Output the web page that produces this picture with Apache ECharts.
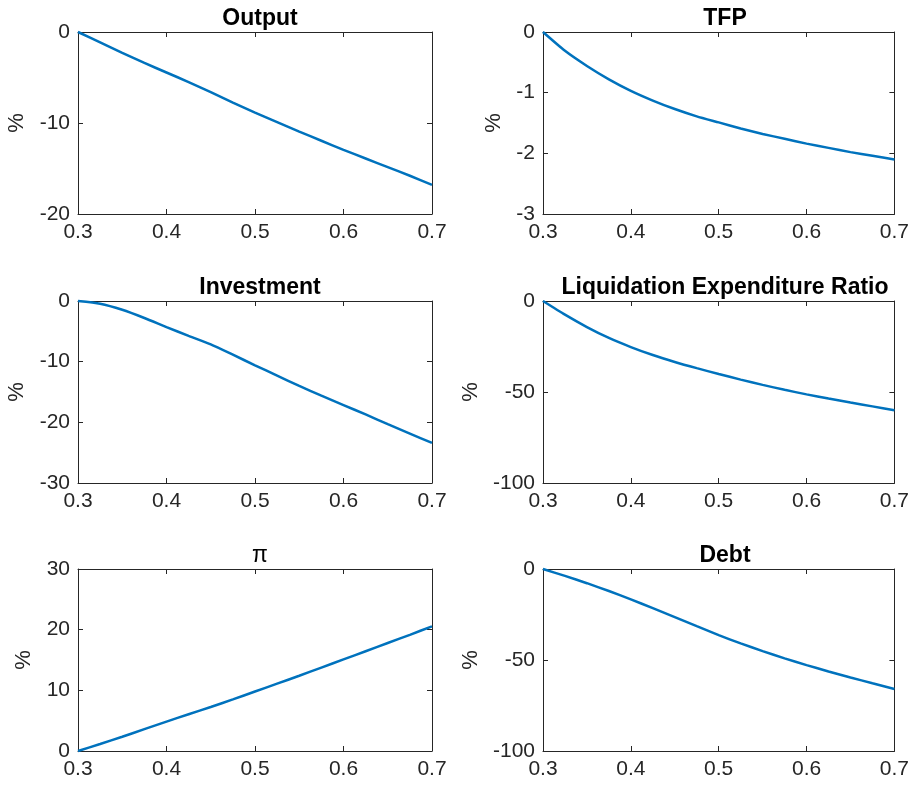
<!DOCTYPE html>
<html>
<head>
<meta charset="utf-8">
<script src="https://cdn.jsdelivr.net/npm/echarts@6/dist/echarts.min.js"></script>
<style>
html,body{margin:0;padding:0;background:#fff;}
#chart{width:912px;height:789px;}
</style>
</head>
<body>
<div id="chart"></div>
<script>
// Horizontal axis: shock size
const shockSize = [0.300, 0.325, 0.350, 0.375, 0.400, 0.425, 0.450, 0.475, 0.500,
                   0.525, 0.550, 0.575, 0.600, 0.625, 0.650, 0.675, 0.700];

// Responses in percent
const output      = [0, -1.15, -2.3, -3.4, -4.45, -5.5, -6.6, -7.75, -8.85,
                     -9.9, -10.95, -11.95, -12.95, -13.9, -14.85, -15.8, -16.8];
const tfp         = [0, -0.31, -0.56, -0.78, -0.97, -1.13, -1.27, -1.39, -1.49,
                     -1.59, -1.68, -1.76, -1.84, -1.91, -1.98, -2.04, -2.10];
const investment  = [0, -0.45, -1.45, -2.8, -4.3, -5.75, -7.15, -8.85, -10.6,
                     -12.3, -14.0, -15.6, -17.15, -18.7, -20.3, -21.85, -23.4];
const liquidation = [0, -7.5, -14.3, -20.3, -25.3, -29.7, -33.5, -36.9, -40.1,
                     -43.2, -46.1, -48.8, -51.3, -53.6, -55.8, -57.9, -60.0];
const inflation   = [0, 1.15, 2.35, 3.6, 4.85, 6.05, 7.25, 8.5, 9.8,
                     11.1, 12.4, 13.75, 15.1, 16.45, 17.8, 19.15, 20.55];
const debt        = [0, -3.8, -7.8, -12.1, -16.7, -21.5, -26.4, -31.4, -36.3,
                     -40.9, -45.1, -49.1, -52.8, -56.3, -59.6, -62.8, -65.9];

// Panel titles and y-axis ranges
const panelTitles = ['Output', 'TFP', 'Investment', 'Liquidation Expenditure Ratio', 'π', 'Debt'];
const yMins       = [-20, -3, -30, -100, 0, -100];
const yMaxs       = [0, 0, 0, 0, 30, 0];
const yIntervals  = [10, 1, 10, 50, 10, 50];

const panelData = [output, tfp, investment, liquidation, inflation, debt];

const axisColor = '#262626';
const lineColor = '#0072BD';
const font = 'Liberation Sans, Arial, Helvetica, sans-serif';

const lefts = [78, 543];
const tops = [32, 301, 569];
const plotW = 354, plotH = 182;
const nameGaps = [50, 38, 50, 61, 43, 61];

const grids = [], xAxes = [], yAxes = [], series = [], titles = [];

panelData.forEach((vals, i) => {
  const col = i % 2, row = Math.floor(i / 2);
  const left = lefts[col], top = tops[row];
  grids.push({ left: left, top: top, width: plotW, height: plotH, containLabel: false });

  const tickStyle = { show: true, inside: true, length: 5, lineStyle: { color: axisColor, width: 1 } };
  const lineStyle = { show: true, onZero: false, lineStyle: { color: axisColor, width: 1 } };

  xAxes.push({
    type: 'value', gridIndex: i, position: 'bottom',
    min: 0.3, max: 0.7, interval: 0.1,
    axisLine: lineStyle, axisTick: tickStyle, splitLine: { show: false },
    axisLabel: { color: axisColor, fontSize: 21, fontFamily: font, margin: 8,
                 formatter: v => v.toFixed(1) }
  });
  xAxes.push({
    type: 'value', gridIndex: i, position: 'top',
    min: 0.3, max: 0.7, interval: 0.1,
    axisLine: lineStyle, axisTick: tickStyle, splitLine: { show: false },
    axisLabel: { show: false }
  });
  yAxes.push({
    type: 'value', gridIndex: i, position: 'left',
    min: yMins[i], max: yMaxs[i], interval: yIntervals[i],
    name: '%', nameLocation: 'middle', nameGap: nameGaps[i], nameRotate: 90,
    nameTextStyle: { color: axisColor, fontSize: 22, fontFamily: font },
    axisLine: lineStyle, axisTick: tickStyle, splitLine: { show: false },
    axisLabel: { color: axisColor, fontSize: 21, fontFamily: font, margin: 8 }
  });
  yAxes.push({
    type: 'value', gridIndex: i, position: 'right',
    min: yMins[i], max: yMaxs[i], interval: yIntervals[i],
    axisLine: lineStyle, axisTick: tickStyle, splitLine: { show: false },
    axisLabel: { show: false }
  });

  series.push({
    type: 'line', xAxisIndex: 2 * i, yAxisIndex: 2 * i,
    data: shockSize.map((x, k) => [x, vals[k]]),
    showSymbol: false, smooth: 0.2, clip: false,
    lineStyle: { color: lineColor, width: 2.5 },
    itemStyle: { color: lineColor },
    animation: false
  });

  titles.push({
    text: panelTitles[i],
    left: left + plotW / 2, top: top - 30, textAlign: 'center',
    textStyle: { color: '#000', fontSize: 23,
                 fontWeight: panelTitles[i] === 'π' ? 'normal' : 'bold',
                 fontFamily: font }
  });
});

const chart = echarts.init(document.getElementById('chart'), null, { renderer: 'canvas' });
chart.setOption({
  backgroundColor: '#ffffff',
  animation: false,
  title: titles,
  grid: grids,
  xAxis: xAxes,
  yAxis: yAxes,
  series: series
});
</script>
</body>
</html>
